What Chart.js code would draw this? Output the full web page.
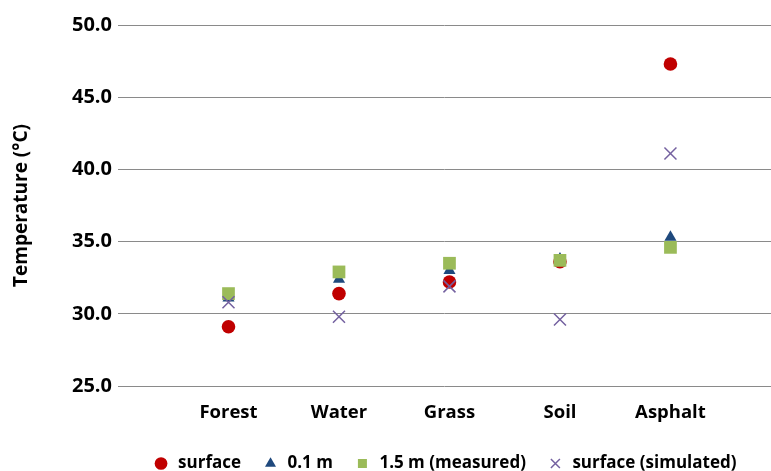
<!DOCTYPE html>
<html>
<head>
<meta charset="utf-8">
<script src="https://cdn.jsdelivr.net/npm/chart.js@4/dist/chart.umd.min.js"></script>
<style>
  html, body { margin: 0; padding: 0; background: #fff; }
  #wrap { width: 771px; height: 471px; }
</style>
</head>
<body>
<div id="wrap"><canvas id="c" width="771" height="471"></canvas></div>
<script>
// Site categories along the x axis
const categories = ['Forest', 'Water', 'Grass', 'Soil', 'Asphalt'];

// Temperatures (°C) per site
const surfaceMeasured = [29.1, 31.4, 32.2, 33.6, 47.3];
const height01m      = [31.1, 32.4, 33.0, 33.8, 35.3];
const height15m      = [31.4, 32.9, 33.5, 33.7, 34.6];
const surfaceSim     = [30.8, 29.8, 31.9, 29.6, 41.1];

// Y axis tick values
const yTicks = [25, 30, 35, 40, 45, 50];

const toPoints = arr => arr.map((v, i) => ({ x: i, y: v }));
const FONT = 'Open Sans';

new Chart(document.getElementById('c'), {
  type: 'scatter',
  data: {
    datasets: [
      { label: 'surface', data: toPoints(surfaceMeasured), pointStyle: 'circle',
        pointRadius: 6.8, backgroundColor: '#C00000', borderColor: '#C00000', borderWidth: 0, order: 4 },
      { label: '0.1 m', data: toPoints(height01m), pointStyle: 'triangle',
        pointRadius: 7, backgroundColor: '#1F497D', borderColor: '#1F497D', borderWidth: 0, order: 3 },
      { label: '1.5 m (measured)', data: toPoints(height15m), pointStyle: 'rect',
        pointRadius: 9, backgroundColor: '#9BBB59', borderColor: '#9BBB59', borderWidth: 0, order: 2 },
      { label: 'surface (simulated)', data: toPoints(surfaceSim), pointStyle: 'crossRot',
        pointRadius: 8.5, backgroundColor: '#7461A0', borderColor: '#7461A0', borderWidth: 1.5, order: 1 }
    ]
  },
  options: {
    responsive: false,
    animation: false,
    layout: { autoPadding: false, padding: { top: 25, right: 0, bottom: -11, left: 0 } },
    plugins: {
      tooltip: { enabled: false },
      legend: {
        position: 'bottom',
        fullSize: false,
        labels: {
          usePointStyle: true,
          boxHeight: 9,
          padding: 21,
          color: '#000',
          font: { family: FONT, size: 17, weight: 'bold' },
          sort: (a, b) => a.datasetIndex - b.datasetIndex
        }
      }
    },
    scales: {
      x: {
        type: 'linear',
        min: -1,
        max: 4.91,
        afterBuildTicks: s => { s.ticks = categories.map((_, i) => ({ value: i })); },
        afterFit: s => { s.height = 48; s.paddingLeft = 0; s.paddingRight = 0; },
        grid: { display: false, drawTicks: false },
        border: { display: false },
        ticks: {
          autoSkip: false,
          maxRotation: 0,
          padding: 16,
          color: '#000',
          font: { family: FONT, size: 18.5, weight: 'bold' },
          callback: v => categories[v] ?? ''
        }
      },
      y: {
        min: 25,
        max: 50,
        afterBuildTicks: s => { s.ticks = yTicks.map(v => ({ value: v })); },
        afterFit: s => { s.width = 118; },
        grid: { color: '#8a8a8a', lineWidth: 1, drawTicks: false },
        border: { display: false },
        title: {
          display: true,
          text: 'Temperature (°C)',
          color: '#000',
          font: { family: FONT, size: 19, weight: 'bold' },
          padding: { top: 10, bottom: 0 }
        },
        ticks: {
          padding: 6,
          color: '#000',
          font: { family: FONT, size: 20, weight: 'bold' },
          callback: v => Number(v).toFixed(1)
        }
      }
    }
  }
});
</script>
</body>
</html>
